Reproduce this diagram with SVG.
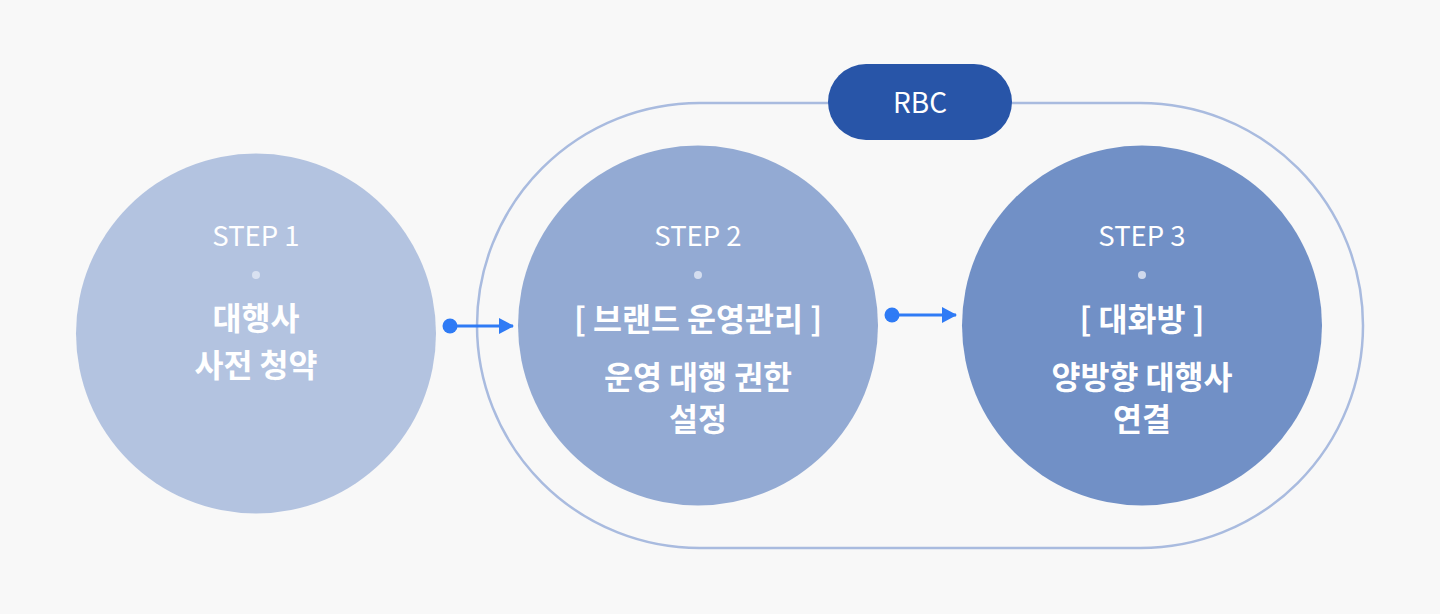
<svg xmlns="http://www.w3.org/2000/svg" width="1440" height="614" viewBox="0 0 1440 614">
<style>
.step{font-family:"Noto Sans CJK KR","Noto Sans",sans-serif;font-size:27.5px;font-weight:400;fill:#ffffff;text-anchor:middle;}
.ko{font-family:"Noto Sans CJK KR","Noto Sans",sans-serif;font-size:31.5px;font-weight:700;fill:#ffffff;text-anchor:middle;}
.sep{fill:#dfe6f3;opacity:0.85;}
.conn{stroke:#2f7bf5;stroke-width:3;fill:none;}
.dotc{fill:#2f7bf5;}
</style>
<defs>
<marker id="ah" markerWidth="16" markerHeight="16" refX="14" refY="8" orient="auto" markerUnits="userSpaceOnUse">
<path d="M0,0 L15,8 L0,16 Z" fill="#2f7bf5"/>
</marker>
</defs>
<rect width="1440" height="614" fill="#f8f8f8"/>
<g id="rbc-group">
<rect x="477" y="103" width="886" height="445" rx="222.5" fill="none" stroke="#a9bbdf" stroke-width="2.5"/>
</g>
<g id="step1">
<circle cx="256" cy="333.5" r="180" fill="#b3c3e0"/>
<text class="step" x="256" y="246">STEP 1</text>
<circle class="sep" cx="256" cy="275" r="4"/>
<text class="ko" x="256" y="330">대행사</text>
<text class="ko" x="256" y="377">사전 청약</text>
</g>
<g id="step2">
<circle cx="698" cy="325.5" r="180" fill="#93aad3"/>
<text class="step" x="698" y="246">STEP 2</text>
<circle class="sep" cx="698" cy="275" r="4"/>
<text class="ko" x="698" y="331">[ 브랜드 운영관리 ]</text>
<text class="ko" x="698" y="389">운영 대행 권한</text>
<text class="ko" x="698" y="431">설정</text>
</g>
<g id="step3">
<circle cx="1142" cy="325.5" r="180" fill="#7190c6"/>
<text class="step" x="1142" y="246">STEP 3</text>
<circle class="sep" cx="1142" cy="275" r="4"/>
<text class="ko" x="1142" y="331">[ 대화방 ]</text>
<text class="ko" x="1142" y="389">양방향 대행사</text>
<text class="ko" x="1142" y="431">연결</text>
</g>
<g id="rbc">
<rect x="828" y="64" width="184" height="76" rx="38" fill="#2855a8"/>
<text x="920" y="113" font-family="'Noto Sans CJK KR','Noto Sans',sans-serif" font-size="28" fill="#ffffff" text-anchor="middle">RBC</text>
</g>
<g id="connectors">
<circle class="dotc" cx="450" cy="326" r="7.5"/>
<line class="conn" x1="450" y1="326" x2="513" y2="326" marker-end="url(#ah)"/>
<circle class="dotc" cx="892" cy="315" r="7.5"/>
<line class="conn" x1="892" y1="315" x2="956" y2="315" marker-end="url(#ah)"/>
</g>
</svg>
